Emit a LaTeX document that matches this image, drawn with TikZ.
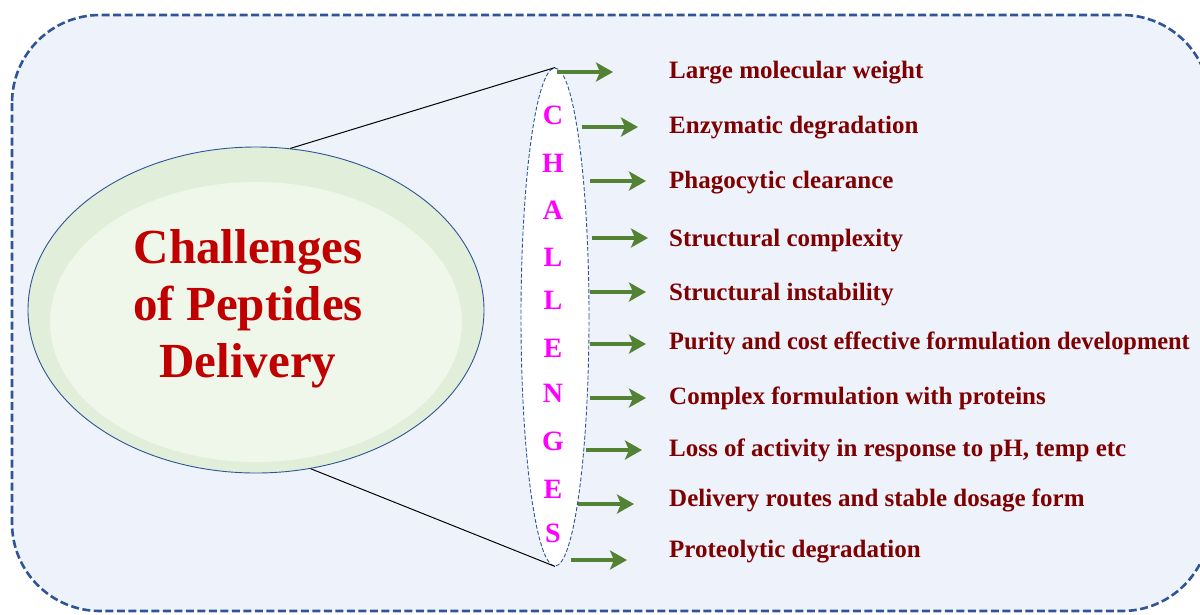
\documentclass[tikz,border=0pt]{standalone}
\usepackage{fontspec}
\setmainfont{Liberation Serif}
\usetikzlibrary{shapes.geometric,arrows.meta}
\definecolor{bgfill}{HTML}{EEF2FA}
\definecolor{bord}{HTML}{2F5597}
\definecolor{gouter}{HTML}{E1EED9}
\definecolor{ginner}{HTML}{EFF6EA}
\definecolor{lbl}{HTML}{7F0000}
\definecolor{ttl}{HTML}{C00000}
\definecolor{arr}{HTML}{548235}
\definecolor{mag}{HTML}{FF00FF}
\tikzset{
  lblnode/.style={anchor=base west, inner sep=0pt, text=lbl, font=\fontsize{25}{28}\selectfont\bfseries},
  letter/.style={inner sep=0pt, text=mag, font=\fontsize{28}{30}\selectfont\bfseries},
  ttlnode/.style={anchor=base, inner sep=0pt, text=ttl, font=\fontsize{49}{57}\selectfont\bfseries},
  garrow/.style={draw=arr, line width=4.5pt, -{Stealth[length=17pt,width=19pt,inset=4pt]}},
}
\begin{document}
\begin{tikzpicture}[x=1pt,y=-1pt]
\useasboundingbox (0,0) rectangle (1200,614);
% background panel
\draw[bord, fill=bgfill, line width=2.6pt, dash pattern=on 8pt off 3.5pt, rounded corners=88pt]
  (12,15) rectangle (1210,611);
% big ellipse
\node[ellipse, draw=bord, line width=0.9pt, fill=gouter, minimum width=456pt, minimum height=326pt, inner sep=0pt] (big) at (256,310) {};
\fill[ginner] (256,322) ellipse [x radius=206, y radius=140];
% title
\node[ttlnode] (t1) at (248,263) {Challenges};
\node[ttlnode] (t2) at (248,320) {of Peptides};
\node[ttlnode] (t3) at (248,377) {Delivery};
% narrow ellipse
\node[ellipse, draw=bord, line width=0.9pt, dash pattern=on 4pt off 2pt, fill=white, minimum width=68pt, minimum height=498pt, inner sep=0pt] (ch) at (555,317) {};
% connecting lines
\draw[line width=1pt] (big.78) -- (ch.north);
\draw[line width=1pt] (big.-71) -- (ch.south);
% letters
\foreach \ch/\yy [count=\i] in {C/115,H/163,A/210,L/257,L/300,E/348,N/393,G/441,E/489,S/533}{
  \node[letter] (l\i) at (553,\yy) {\ch};
}
% arrows and labels
\foreach \xs/\yy/\bl/\txt [count=\i] in {
  557/72/78/{Large molecular weight},
  582/127/133/{Enzymatic degradation},
  590/181/188/{Phagocytic clearance},
  592/238/246/{Structural complexity},
  590/292/300/{Structural instability},
  590/344/349/{\scalebox{0.975}[1]{Purity and cost effective formulation development}},
  590/398/404/{Complex formulation with proteins},
  586/450/456/{Loss of activity in response to pH, temp etc},
  578/504/506/{Delivery routes and stable dosage form},
  571/560/557/{Proteolytic degradation}}{
  \coordinate (as\i) at (\xs,\yy);
  \coordinate (ae\i) at ({\xs+56},\yy);
  \draw[garrow] (as\i) -- (ae\i);
  \node[lblnode] (lb\i) at (669,\bl) {\txt};
}
\end{tikzpicture}
\end{document}
